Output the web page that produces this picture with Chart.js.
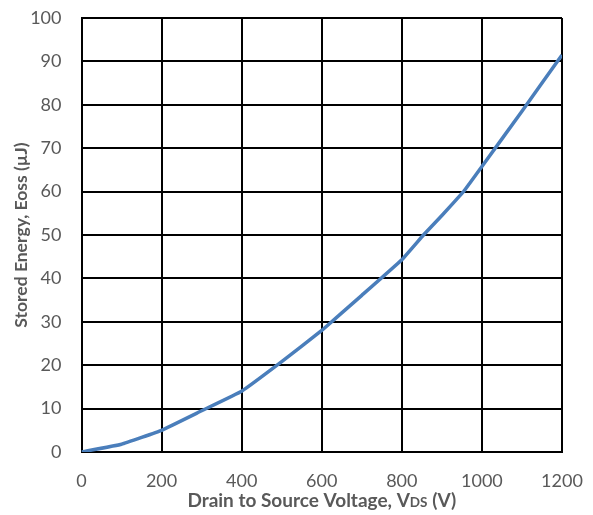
<!DOCTYPE html>
<html><head><meta charset="utf-8">
<script src="https://cdn.jsdelivr.net/npm/chart.js@4/dist/chart.umd.min.js"></script>
<style>html,body{margin:0;padding:0;background:#fff}#wrap{width:593px;height:515px}</style>
</head><body><div id="wrap"><canvas id="c"></canvas></div>
<script>
const voltages = [0, 100, 200, 300, 400, 500, 600, 700, 800, 854, 900, 954, 970, 1000, 1100, 1200];
const energies = [0, 1.8, 5, 9.5, 14, 20.8, 28, 36.1, 44.3, 50, 54.5, 60, 62, 65.8, 78.5, 91.5];
const xTicks = [0, 200, 400, 600, 800, 1000, 1200];
const yTicks = [0, 10, 20, 30, 40, 50, 60, 70, 80, 90, 100];
const yTitle = 'Stored Energy, Eoss (µJ)';
const xTitleParts = [['Drain to Source Voltage, V', 19], ['DS', 13.5], [' (V)', 19]];

const points = voltages.map((v, i) => ({x: v, y: energies[i]}));
const font = 'Lato, "Open Sans", sans-serif';

const titlePlugin = {
  id: 'titles',
  afterDraw(chart) {
    const ctx = chart.ctx, area = chart.chartArea;
    ctx.save();
    ctx.fillStyle = '#595959';
    ctx.textBaseline = 'alphabetic';
    let total = 0;
    xTitleParts.forEach(([t, s]) => { ctx.font = 'bold ' + s + 'px ' + font; total += ctx.measureText(t).width; });
    let x = (area.left + area.right) / 2 - total / 2;
    xTitleParts.forEach(([t, s]) => {
      ctx.font = 'bold ' + s + 'px ' + font;
      ctx.fillText(t, x, 506.5);
      x += ctx.measureText(t).width;
    });
    ctx.translate(27, (area.top + area.bottom) / 2);
    ctx.rotate(-Math.PI / 2);
    ctx.textAlign = 'center';
    ctx.font = 'bold 17.5px ' + font;
    ctx.fillText(yTitle, 0, 0);
    ctx.restore();
  }
};

new Chart(document.getElementById('c'), {
  type: 'line',
  data: { datasets: [{ data: points, borderColor: '#4a7ebb', borderWidth: 3.5, pointRadius: 0, tension: 0.08, fill: false }] },
  options: {
    responsive: true, maintainAspectRatio: false, animation: false,
    layout: { padding: { top: 18, right: 31, left: 0, bottom: 0 } },
    plugins: { legend: { display: false }, tooltip: { enabled: false } },
    scales: {
      x: {
        type: 'linear', min: 0, max: 1200,
        afterBuildTicks(s) { s.ticks = xTicks.map(v => ({value: v})); },
        afterFit(s) { s.height = 63; s.paddingLeft = 0; s.paddingRight = 0; },
        grid: { color: '#000', lineWidth: 2, drawTicks: false },
        border: { color: '#000', width: 2 },
        ticks: { color: '#595959', font: { family: font, size: 18 }, padding: 18, maxRotation: 0, callback: v => String(v) }
      },
      y: {
        min: 0, max: 100,
        afterBuildTicks(s) { s.ticks = yTicks.map(v => ({value: v})); },
        afterFit(s) { s.width = 81.5; s.paddingTop = 0; s.paddingBottom = 0; },
        grid: { color: '#000', lineWidth: 2, drawTicks: false },
        border: { color: '#000', width: 2 },
        ticks: { color: '#595959', font: { family: font, size: 18 }, padding: 20, callback: v => String(v) }
      }
    }
  },
  plugins: [titlePlugin]
});
</script></body></html>
